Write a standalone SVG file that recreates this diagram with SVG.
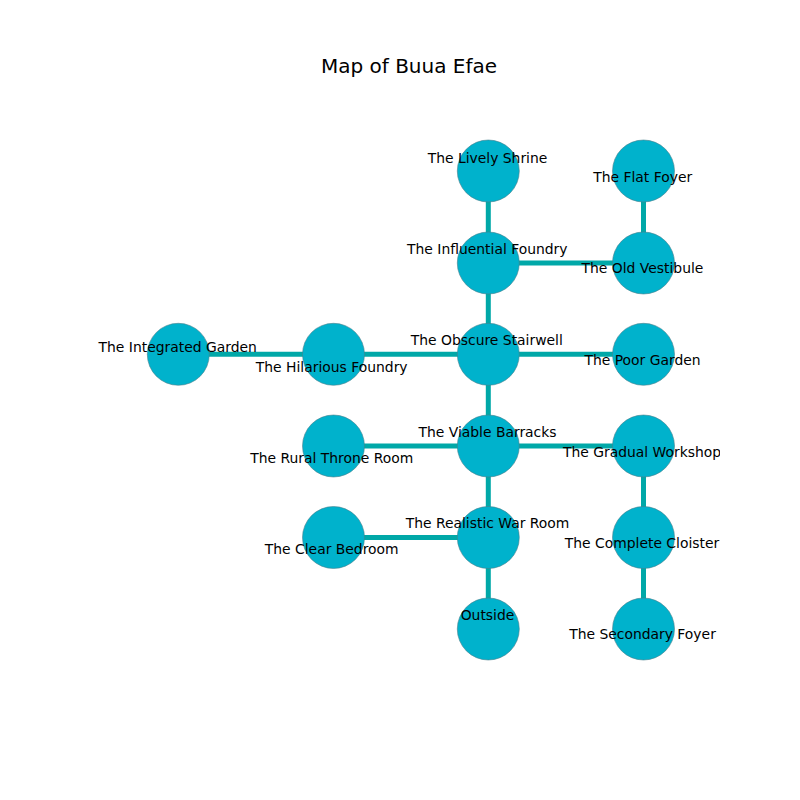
<svg xmlns="http://www.w3.org/2000/svg" width="800" height="800" viewBox="0 0 800 800">
<defs>
<style>
.e{stroke:#00a8a8;stroke-width:5;fill:none}
.n{fill:#00b2cc;stroke:#4a7f8c;stroke-width:0.6}
.l{font-family:"DejaVu Sans",sans-serif;font-size:13.9px;fill:#000;text-anchor:middle}
.t{font-family:"DejaVu Sans",sans-serif;font-size:20px;fill:#000;text-anchor:middle}
</style>
<clipPath id="ax"><rect x="80" y="80" width="640" height="640"/></clipPath>
</defs>
<rect width="800" height="800" fill="#fff"/>
<text class="t" x="409" y="73.3">Map of Buua Efae</text>
<g id="edges">
<line class="e" x1="488.3" y1="171" x2="488.3" y2="263"/>
<line class="e" x1="488.3" y1="263" x2="488.3" y2="354.3"/>
<line class="e" x1="488.3" y1="263" x2="643.5" y2="263"/>
<line class="e" x1="643.5" y1="171" x2="643.5" y2="263"/>
<line class="e" x1="488.3" y1="354.3" x2="643.5" y2="354.3"/>
<line class="e" x1="178.3" y1="354.3" x2="488.3" y2="354.3"/>
<line class="e" x1="488.3" y1="354.3" x2="488.3" y2="446"/>
<line class="e" x1="333.5" y1="446" x2="643.5" y2="446"/>
<line class="e" x1="643.5" y1="446" x2="643.5" y2="629"/>
<line class="e" x1="488.3" y1="446" x2="488.3" y2="629"/>
<line class="e" x1="333.5" y1="537.5" x2="488.3" y2="537.5"/>
</g>
<g id="nodes">
<g id="lively-shrine"><circle class="n" cx="488.3" cy="171" r="31"/></g>
<g id="flat-foyer"><circle class="n" cx="643.5" cy="171" r="31"/></g>
<g id="influential-foundry"><circle class="n" cx="488.3" cy="263" r="31"/></g>
<g id="old-vestibule"><circle class="n" cx="643.5" cy="263" r="31"/></g>
<g id="integrated-garden"><circle class="n" cx="178.3" cy="354.3" r="31"/></g>
<g id="hilarious-foundry"><circle class="n" cx="333.5" cy="354.3" r="31"/></g>
<g id="obscure-stairwell"><circle class="n" cx="488.3" cy="354.3" r="31"/></g>
<g id="poor-garden"><circle class="n" cx="643.5" cy="354.3" r="31"/></g>
<g id="rural-throne-room"><circle class="n" cx="333.5" cy="446" r="31"/></g>
<g id="viable-barracks"><circle class="n" cx="488.3" cy="446" r="31"/></g>
<g id="gradual-workshop"><circle class="n" cx="643.5" cy="446" r="31"/></g>
<g id="clear-bedroom"><circle class="n" cx="333.5" cy="537.5" r="31"/></g>
<g id="realistic-war-room"><circle class="n" cx="488.3" cy="537.5" r="31"/></g>
<g id="complete-cloister"><circle class="n" cx="643.5" cy="537.5" r="31"/></g>
<g id="outside"><circle class="n" cx="488.3" cy="629" r="31"/></g>
<g id="secondary-foyer"><circle class="n" cx="643.5" cy="629" r="31"/></g>
</g>
<g id="labels" clip-path="url(#ax)">
<text class="l" x="487.5" y="163.3">The Lively Shrine</text>
<text class="l" x="642.7" y="182.3">The Flat Foyer</text>
<text class="l" x="487.3" y="254.3">The Influential Foundry</text>
<text class="l" x="642.5" y="273.3">The Old Vestibule</text>
<text class="l" x="486.8" y="345">The Obscure Stairwell</text>
<text class="l" x="642.5" y="365.3">The Poor Garden</text>
<text class="l" x="177.7" y="352.3">The Integrated Garden</text>
<text class="l" x="331.7" y="371.7">The Hilarious Foundry</text>
<text class="l" x="487.5" y="437">The Viable Barracks</text>
<text class="l" x="331.7" y="463.3">The Rural Throne Room</text>
<text class="l" x="642" y="456.7">The Gradual Workshop</text>
<text class="l" x="487.5" y="528">The Realistic War Room</text>
<text class="l" x="331.7" y="554.3">The Clear Bedroom</text>
<text class="l" x="642" y="548.3">The Complete Cloister</text>
<text class="l" x="487.5" y="620">Outside</text>
<text class="l" x="642.5" y="639">The Secondary Foyer</text>
</g>
</svg>
